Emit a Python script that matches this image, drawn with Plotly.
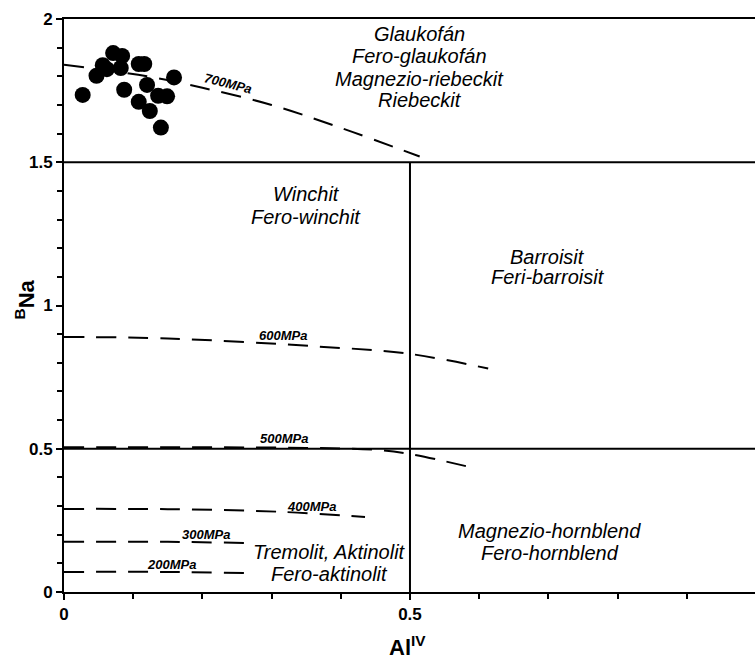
import plotly.graph_objects as go

# Sample points (Al^IV, B-Na)
pts_x = [0.027, 0.047, 0.056, 0.062, 0.071, 0.084, 0.082, 0.087, 0.108, 0.116,
         0.120, 0.108, 0.124, 0.136, 0.149, 0.140, 0.159]
pts_y = [1.735, 1.802, 1.839, 1.825, 1.881, 1.871, 1.829, 1.753, 1.843, 1.843,
         1.770, 1.711, 1.679, 1.732, 1.730, 1.621, 1.796]

# Isobars
p700_x = [0.0, 0.12, 0.20, 0.30, 0.40, 0.514]
p700_y = [1.84, 1.80, 1.76, 1.70, 1.62, 1.52]
p600_x = [0.0, 0.15, 0.366, 0.497, 0.613]
p600_y = [0.89, 0.885, 0.857, 0.832, 0.78]
p500_x = [0.0, 0.20, 0.35, 0.445, 0.497, 0.597]
p500_y = [0.505, 0.505, 0.503, 0.497, 0.483, 0.43]
p400_x = [0.0, 0.15, 0.312, 0.435]
p400_y = [0.29, 0.289, 0.28, 0.262]
p300_x = [0.0, 0.15, 0.262]
p300_y = [0.175, 0.175, 0.171]
p200_x = [0.0, 0.15, 0.262]
p200_y = [0.07, 0.07, 0.066]

isobar_labels = ["700MPa", "600MPa", "500MPa", "400MPa", "300MPa", "200MPa"]
label_x = [0.237, 0.316, 0.318, 0.358, 0.205, 0.156]
label_y = [1.775, 0.895, 0.535, 0.30, 0.20, 0.095]
label_angle = [14, 0, 0, 0, 0, 0]

# Mineral field names, one entry per text line
region_lines = ["Glaukofán", "Fero-glaukofán", "Magnezio-riebeckit", "Riebeckit",
                "Winchit", "Fero-winchit",
                "Barroisit", "Feri-barroisit",
                "Magnezio-hornblend", "Fero-hornblend",
                "Tremolit, Aktinolit", "Fero-aktinolit"]
region_x = [0.514, 0.514, 0.514, 0.514,
            0.350, 0.350,
            0.699, 0.699,
            0.702, 0.702,
            0.384, 0.384]
region_y = [1.948, 1.871, 1.790, 1.717,
            1.388, 1.308,
            1.171, 1.098,
            0.213, 0.136,
            0.140, 0.063]

FONT = "Arial, Liberation Sans, sans-serif"

fig = go.Figure()
dash = "20px,12px"
for xs, ys in [(p700_x, p700_y), (p600_x, p600_y), (p500_x, p500_y),
               (p400_x, p400_y), (p300_x, p300_y), (p200_x, p200_y)]:
    fig.add_trace(go.Scatter(x=xs, y=ys, mode="lines", line_shape="spline",
                             line=dict(color="black", width=2, dash=dash),
                             showlegend=False, hoverinfo="skip"))

fig.add_trace(go.Scatter(x=pts_x, y=pts_y, mode="markers",
                         marker=dict(color="black", size=16),
                         showlegend=False))

# Field boundaries
fig.add_shape(type="line", x0=0, x1=1, y0=1.5, y1=1.5, xref="x", yref="y",
              line=dict(color="black", width=2))
fig.add_shape(type="line", x0=0, x1=1, y0=0.5, y1=0.5, xref="x", yref="y",
              line=dict(color="black", width=2))
fig.add_shape(type="line", x0=0.5, x1=0.5, y0=0, y1=1.5, xref="x", yref="y",
              line=dict(color="black", width=2))

for t, x, y, a in zip(isobar_labels, label_x, label_y, label_angle):
    fig.add_annotation(x=x, y=y, text="<b><i>" + t + "</i></b>", showarrow=False,
                       textangle=a, font=dict(family=FONT, size=13, color="black"))

for t, x, y in zip(region_lines, region_x, region_y):
    fig.add_annotation(x=x, y=y, text="<i>" + t + "</i>", showarrow=False,
                       font=dict(family=FONT, size=20, color="black"))

fig.add_annotation(xref="paper", yref="paper", x=0.497 / 0.9986, y=-0.122,
                   text="<b>Al<sup>IV</sup></b>", showarrow=False,
                   font=dict(family=FONT, size=22, color="black"))
fig.add_annotation(xref="paper", yref="paper", x=-0.080, y=0.51,
                   text="<b><sup>B</sup>Na</b>", showarrow=False, textangle=-90,
                   font=dict(family=FONT, size=22, color="black"))

fig.update_layout(
    width=755, height=660,
    margin=dict(l=64, r=0, t=19, b=68),
    plot_bgcolor="white", paper_bgcolor="white",
    xaxis=dict(range=[0, 0.9986], dtick=0.5, tick0=0, showgrid=False, zeroline=False,
               showline=True, linecolor="black", linewidth=2, mirror=True,
               ticks="outside", ticklen=6, tickwidth=2, tickcolor="black",
               minor=dict(dtick=0.1, ticks="outside", ticklen=5, tickwidth=1.5, tickcolor="black"),
               tickfont=dict(family=FONT, size=17, color="black", weight="bold")),
    yaxis=dict(range=[0, 2], dtick=0.5, tick0=0, showgrid=False, zeroline=False,
               showline=True, linecolor="black", linewidth=2,
               ticks="outside", ticklen=6, tickwidth=2, tickcolor="black",
               minor=dict(dtick=0.1, ticks="outside", ticklen=5, tickwidth=1.5, tickcolor="black"),
               tickfont=dict(family=FONT, size=17, color="black", weight="bold")),
)

fig.write_html("out.html")
